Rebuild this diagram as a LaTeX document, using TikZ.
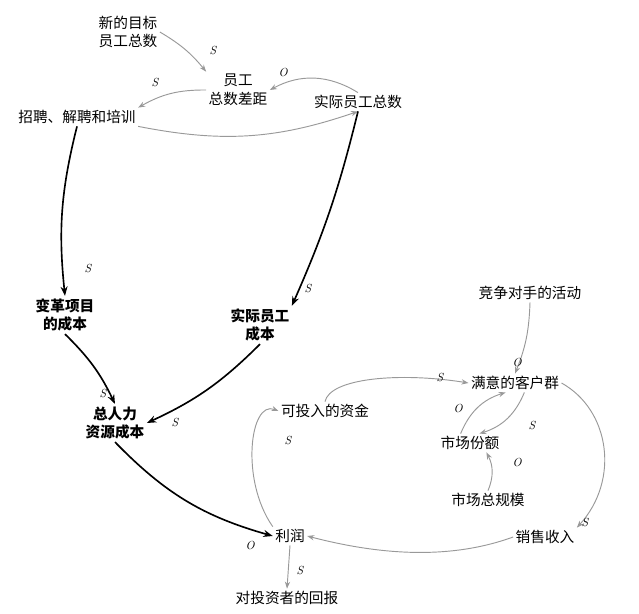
\documentclass[tikz,border=0pt]{standalone}
\usepackage{fontspec}
\newfontfamily\cjk{Noto Sans CJK SC}
\usetikzlibrary{arrows.meta}
\begin{document}
\begin{tikzpicture}[x=0.03cm,y=-0.03cm,
  lbl/.style={font=\cjk\fontsize{12.5}{16}\selectfont,align=center,inner sep=2pt},
  blbl/.style={lbl,font=\cjk\bfseries\fontsize{12.5}{16}\selectfont},
  thin/.style={draw=gray!80,line width=0.8pt,-{Stealth[length=6pt]}},
  thick/.style={draw=black,line width=1.4pt,-{Stealth[length=8pt]}},
  pol/.style={font=\itshape\normalsize,inner sep=1pt}]
\useasboundingbox (0,0) rectangle (639,614);
\node[lbl] (ng) at (128,32) {新的目标\\员工总数};
\node[lbl] (gap) at (238,90) {员工\\总数差距};
\node[lbl] (act) at (358,102) {实际员工总数};
\node[lbl] (hire) at (77,117) {招聘、解聘和培训};
\node[blbl] (chg) at (65,315) {变革项目\\的成本};
\node[blbl] (ac) at (260,325) {实际员工\\成本};
\node[blbl] (tot) at (115,423) {总人力\\资源成本};
\node[lbl] (comp) at (530,293) {竞争对手的活动};
\node[lbl] (sat) at (515,383) {满意的客户群};
\node[lbl] (fund) at (325,411) {可投入的资金};
\node[lbl] (share) at (470,443) {市场份额};
\node[lbl] (mkt) at (488,500) {市场总规模};
\node[lbl] (rev) at (545,537) {销售收入};
\node[lbl] (prof) at (290,536) {利润};
\node[lbl] (inv) at (287,598) {对投资者的回报};

\draw[thin] (ng.east) to[bend left=10] (gap.north west);
\node[pol] at (213,50) {S};
\draw[thin] (act.north) to[bend right=30] (gap.east);
\node[pol] at (283,72) {O};
\draw[thin] (gap.west) to[bend right=15] (hire.north east);
\node[pol] at (155,82) {S};
\draw[thin] (hire.south east) to[bend right=15] (act.south);
\draw[thick] (hire.south) to[bend right=10] (chg.north);
\node[pol] at (88,268) {S};
\draw[thick] (act.south) to[bend left=5] (ac.north east);
\node[pol] at (308,288) {S};
\draw[thick] (chg.south) to[bend left=10] (tot.north);
\node[pol] at (103,393) {S};
\draw[thick] (ac.south) to[bend left=10] (tot.east);
\node[pol] at (175,422) {S};
\draw[thick] (tot.south) to[bend right=15] (prof.west);
\node[pol] at (250,545) {O};
\draw[thin] (prof.north west) .. controls (240,480) and (250,400) .. (fund.west);
\node[pol] at (288,440) {S};
\draw[thin] (fund.north) .. controls (330,378) and (400,372) .. (sat.west);
\node[pol] at (440,377) {S};
\draw[thin] (sat.east) .. controls (610,410) and (620,480) .. (rev.north east);
\node[pol] at (585,522) {S};
\draw[thin] (rev.west) .. controls (450,560) and (380,555) .. (prof.east);
\draw[thin] (comp.south) to[bend left=10] (sat.north);
\node[pol] at (517,362) {O};
\draw[thin] ([xshift=8]sat.south) to[bend left=25] ([xshift=8]share.north);
\node[pol] at (532,425) {S};
\draw[thin] ([xshift=-8]share.north) to[bend left=25] ([xshift=-8]sat.south);
\node[pol] at (458,408) {O};
\draw[thin] (mkt.north) to[bend right=25] ([xshift=14]share.south);
\node[pol] at (517,462) {O};
\draw[thin] (prof.south) -- (inv.north);
\node[pol] at (300,570) {S};
\end{tikzpicture}
\end{document}
